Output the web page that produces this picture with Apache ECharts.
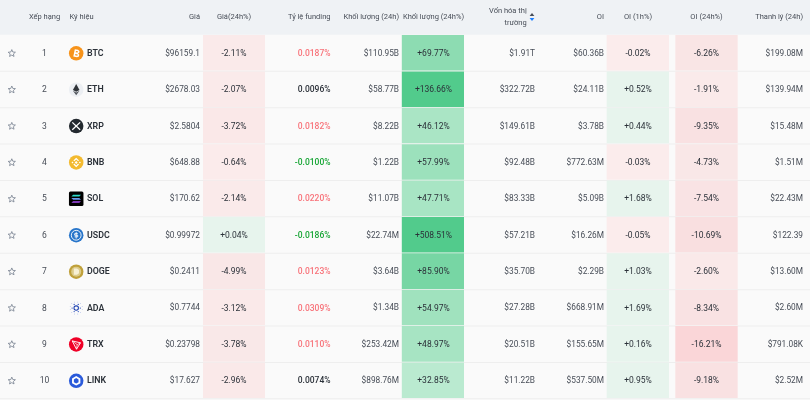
<!DOCTYPE html>
<html>
<head>
<meta charset="utf-8">
<script src="https://cdn.jsdelivr.net/npm/echarts@6/dist/echarts.min.js"></script>
<style>
  html, body { margin: 0; padding: 0; background: #fafafa; }
  /* the reference is a slightly soft screenshot */
  #chart { width: 810px; height: 400px; filter: blur(0.3px); }
</style>
</head>
<body>
<div id="chart"></div>
<script>
// values
const ranks = ['1', '2', '3', '4', '5', '6', '7', '8', '9', '10'];
const symbols = ['BTC', 'ETH', 'XRP', 'BNB', 'SOL', 'USDC', 'DOGE', 'ADA', 'TRX', 'LINK'];
const prices = ['$96159.1', '$2678.03', '$2.5804', '$648.88', '$170.62', '$0.99972', '$0.2411', '$0.7744', '$0.23798', '$17.627'];
const priceChanges = [-2.11, -2.07, -3.72, -0.64, -2.14, 0.04, -4.99, -3.12, -3.78, -2.96];
const fundingRates = [0.0187, 0.0096, 0.0182, -0.0100, 0.0220, -0.0186, 0.0123, 0.0309, 0.0110, 0.0074];
const volumes = ['$110.95B', '$58.77B', '$8.22B', '$1.22B', '$11.07B', '$22.74M', '$3.64B', '$1.34B', '$253.42M', '$898.76M'];
const volumeChanges = [69.77, 136.66, 46.12, 57.99, 47.71, 508.51, 85.90, 54.97, 48.97, 32.85];
const marketCaps = ['$1.91T', '$322.72B', '$149.61B', '$92.48B', '$83.33B', '$57.21B', '$35.70B', '$27.28B', '$20.51B', '$11.22B'];
const openInterest = ['$60.36B', '$24.11B', '$3.78B', '$772.63M', '$5.09B', '$16.26M', '$2.29B', '$668.91M', '$155.65M', '$537.50M'];
const oi1hChanges = [-0.02, 0.52, 0.44, -0.03, 1.68, -0.05, 1.03, 1.69, 0.16, 0.95];
const oi24hChanges = [-6.26, -1.91, -9.35, -4.73, -7.54, -10.69, -2.60, -8.34, -16.21, -9.18];
const liquidations = ['$199.08M', '$139.94M', '$15.48M', '$1.51M', '$22.43M', '$122.39', '$13.60M', '$2.60M', '$791.08K', '$2.52M'];

const FONT = 'Roboto, sans-serif';
const TEXT_GREY = '#474d57';
const TEXT_DARK = '#2b3139';

const signed = v => (v > 0 ? '+' : '') + v.toFixed(2) + '%';
const funding = v => v.toFixed(4) + '%';
const fundingColor = v => (v < 0 ? '#16a534' : v >= 0.01 ? '#f8737a' : TEXT_DARK);

// piecewise colour ramp, stops are [value, colour]
function ramp(stops, v) {
  if (v <= stops[0][0]) return stops[0][1];
  for (let i = 1; i < stops.length; i++) {
    if (v <= stops[i][0]) {
      const t = (v - stops[i - 1][0]) / (stops[i][0] - stops[i - 1][0]);
      return echarts.color.lerp(t, [stops[i - 1][1], stops[i][1]]);
    }
  }
  return stops[stops.length - 1][1];
}
const volumeRamp = [[30, '#bdebd2'], [60, '#9ae0ba'], [90, '#72d4a0'], [137, '#52cb8c']];
const redRamp = [[0, '#fbecec'], [5, '#f9e7e7'], [10, '#f9e0e1'], [16.3, '#fad6d8']];
const changeColor = v => (v >= 0 ? '#e7f4ed' : ramp(redRamp, -v));

const xy = p => ({ points: p });
const poly = (points, fill) => ({ type: 'polygon', shape: xy(points), style: { fill } });
const circle = (r, fill, stroke, lineWidth) => ({ type: 'circle', shape: { cx: 0, cy: 0, r }, style: { fill: fill || 'none', stroke, lineWidth } });
const seg = (x1, y1, x2, y2, stroke, lineWidth) => ({ type: 'line', shape: { x1, y1, x2, y2 }, style: { stroke, lineWidth } });
function ngon(n, r, start) {
  const pts = [];
  for (let i = 0; i < n; i++) {
    const a = start + i * 2 * Math.PI / n;
    pts.push([r * Math.cos(a), r * Math.sin(a)]);
  }
  return pts;
}
function adaDots() {
  const out = [{ type: 'circle', shape: { cx: 0, cy: 0, r: 2.2 }, style: { fill: 'none', stroke: '#1a3fb0', lineWidth: 1.1 } }];
  ngon(6, 4.1, 0).forEach(p => out.push({ type: 'circle', shape: { cx: p[0], cy: p[1], r: 0.65 }, style: { fill: '#2c4fbd' } }));
  ngon(12, 6.2, 0.26).forEach(p => out.push({ type: 'circle', shape: { cx: p[0], cy: p[1], r: 0.4 }, style: { fill: '#7f95dc' } }));
  return out;
}
// tiny coin logos, drawn around (0, 0) in a 14.5px box
const icons = {
  BTC: () => [circle(7.25, '#f7931a'),
    { type: 'group', rotation: -0.2, children: [
      poly([[-2.2, -3.8], [1.2, -3.8], [2.9, -2.7], [2.9, -1.1], [1.9, -0.1], [3.3, 0.9], [3.3, 2.6], [1.6, 3.8], [-2.2, 3.8]], '#fff'),
      { type: 'rect', shape: { x: -0.7, y: -2.3, width: 2, height: 1.3 }, style: { fill: '#f7931a' } },
      { type: 'rect', shape: { x: -0.7, y: 0.8, width: 2.4, height: 1.4 }, style: { fill: '#f7931a' } }
    ] }],
  ETH: () => [circle(7.25, '#eceff3'),
    poly([[0, -5.6], [3.3, 0.2], [0, 2], [-3.3, 0.2]], '#2f3338'),
    poly([[0, 2.9], [3.3, 1], [0, 5.6], [-3.3, 1]], '#54585e')],
  XRP: () => [circle(7.25, '#23292f'),
    seg(-3.9, -3.7, 3.9, 3.7, '#fff', 1.3), seg(3.9, -3.7, -3.9, 3.7, '#fff', 1.3)],
  BNB: () => [circle(7.25, '#f3ba2f'),
    poly(ngon(4, 1.5, 0), '#fff'),
    poly([[0, -4.8], [2.8, -2], [1.9, -1.1], [0, -3], [-1.9, -1.1], [-2.8, -2]], '#fff'),
    poly([[0, 4.8], [2.8, 2], [1.9, 1.1], [0, 3], [-1.9, 1.1], [-2.8, 2]], '#fff'),
    poly(ngon(4, 1, 0).map(p => [p[0] - 3.7, p[1]]), '#fff'),
    poly(ngon(4, 1, 0).map(p => [p[0] + 3.7, p[1]]), '#fff')],
  SOL: () => [{ type: 'rect', shape: { x: -7.25, y: -7.25, width: 14.5, height: 14.5, r: 1.5 }, style: { fill: '#000' } },
    poly([[-3.1, -4], [4.8, -4], [3.1, -2.3], [-4.8, -2.3]], '#2bd9c8'),
    poly([[-4.8, -0.9], [3.1, -0.9], [4.8, 0.8], [-3.1, 0.8]], '#6a9bf0'),
    poly([[-3.1, 2.3], [4.8, 2.3], [3.1, 4], [-4.8, 4]], '#a64bf0')],
  USDC: () => [circle(7.25, '#2775ca'), circle(4.9, null, '#fff', 0.9),
    seg(0, -3.4, 0, 3.4, '#fff', 0.8),
    { type: 'polyline', shape: xy([[1.6, -1.6], [-1.5, -1.6], [-1.5, 0], [1.5, 0], [1.5, 1.6], [-1.6, 1.6]]), style: { fill: 'none', stroke: '#fff', lineWidth: 0.9 } }],
  DOGE: () => [circle(7.25, '#bfa03a'), circle(5, '#dccb8a'),
    poly([[-2.4, -3.2], [0.8, -3.2], [2.8, -1.6], [2.8, 1.6], [0.8, 3.2], [-2.4, 3.2]], '#f7f0d4')],
  ADA: adaDots,
  TRX: () => [circle(7.25, '#ef0027'),
    { type: 'polygon', shape: xy([[-4, -3.5], [4.3, -1.6], [0.3, 4.8]]), style: { fill: 'none', stroke: '#fff', lineWidth: 0.9 } },
    seg(-4, -3.5, 1, 0.2, '#fff', 0.7), seg(1, 0.2, 0.3, 4.8, '#fff', 0.7), seg(1, 0.2, 4.3, -1.6, '#fff', 0.7)],
  LINK: () => [circle(7.25, '#2a5ada'), poly(ngon(6, 4.8, -Math.PI / 2), '#fff'), poly(ngon(6, 2.7, -Math.PI / 2), '#2a5ada')]
};

const starPoints = [];
for (let i = 0; i < 10; i++) {
  const a = -Math.PI / 2 + i * Math.PI / 5;
  const r = i % 2 ? 1.7 : 3.8;
  starPoints.push([r * Math.cos(a), r * Math.sin(a)]);
}

const bandH = api => api.size([0, 1])[1];

// one column of plain text
function textColumn(x, align, texts, style) {
  return {
    type: 'custom',
    silent: true,
    z: 5,
    data: texts.map((t, i) => [x, i]),
    renderItem: (params, api) => {
      const p = api.coord([api.value(0), api.value(1)]);
      const st = typeof style === 'function' ? style(params.dataIndex) : style;
      return {
        type: 'text',
        x: p[0],
        y: p[1] + 0.8,
        style: Object.assign({
          text: texts[params.dataIndex],
          textAlign: align,
          textVerticalAlign: 'middle',
          fontFamily: FONT,
          fontSize: 8.5
        }, st)
      };
    }
  };
}

// coloured cell column
function cellColumn(left, right, colors) {
  return {
    type: 'custom',
    silent: true,
    z: 3,
    data: colors.map((c, i) => [left, i, right]),
    renderItem: (params, api) => {
      const a = api.coord([api.value(0), api.value(1)]);
      const b = api.coord([api.value(2), api.value(1)]);
      const h = bandH(api);
      return {
        type: 'rect',
        shape: { x: a[0], y: a[1] - h / 2 + 0.3, width: b[0] - a[0], height: h - 0.8 },
        style: { fill: colors[params.dataIndex] }
      };
    }
  };
}

const rowSeries = {
  type: 'custom',
  silent: true,
  z: 1,
  data: ranks.map((r, i) => [0, i]),
  renderItem: (params, api) => {
    const p = api.coord([api.value(0), api.value(1)]);
    const h = bandH(api);
    return {
      type: 'rect',
      shape: { x: 0, y: p[1] + h / 2 - 0.3, width: 810, height: 1 },
      style: { fill: '#eeeeee' }
    };
  }
};

const starSeries = {
  type: 'custom',
  silent: true,
  z: 5,
  data: ranks.map((r, i) => [11.8, i]),
  renderItem: (params, api) => {
    const p = api.coord([api.value(0), api.value(1)]);
    return {
      type: 'polygon',
      x: p[0],
      y: p[1] + 0.5,
      shape: { points: starPoints },
      style: { fill: 'none', stroke: '#76808f', lineWidth: 0.8 }
    };
  }
};

const iconSeries = {
  type: 'custom',
  silent: true,
  z: 5,
  data: symbols.map((s, i) => [76.2, i]),
  renderItem: (params, api) => {
    const p = api.coord([api.value(0), api.value(1)]);
    return { type: 'group', x: p[0], y: p[1] + 0.4, children: icons[symbols[params.dataIndex]]() };
  }
};

// header row sits above the grid
const headerLabels = [
  ['Xếp hạng', 44.5, 'center'], ['Ký hiệu', 69.5, 'left'], ['Giá', 200, 'right'],
  ['Giá(24h%)', 234, 'center'], ['Tỷ lệ funding', 330.5, 'right'], ['Khối lượng (24h)', 399, 'right'],
  ['Khối lượng (24h%)', 433.5, 'center'], ['OI', 604, 'right'], ['OI (1h%)', 638, 'center'],
  ['OI (24h%)', 706.5, 'center'], ['Thanh lý (24h)', 803, 'right']
];
const headerText = (text, x, y, align) => ({
  type: 'text',
  x, y,
  silent: true,
  style: { text, textAlign: align, textVerticalAlign: 'middle', fontFamily: FONT, fontSize: 7.5, fill: TEXT_GREY }
});

const chart = echarts.init(document.getElementById('chart'), null, { renderer: 'canvas' });
chart.setOption({
  animation: false,
  backgroundColor: '#fafafa',
  tooltip: { show: false },
  grid: { left: 0, right: 0, top: 34.7, bottom: 1.4 },
  xAxis: { type: 'value', min: 0, max: 810, show: false },
  yAxis: { type: 'category', data: ranks, inverse: true, show: false },
  graphic: [
    { type: 'rect', silent: true, z: -1, shape: { x: 0, y: 0, width: 810, height: 34.7 }, style: { fill: '#eff2f5' } },
    ...headerLabels.map(h => headerText(h[0], h[1], 16.8, h[2])),
    headerText('Vốn hóa thị', 526.7, 11.3, 'right'),
    headerText('trường', 526.7, 22.8, 'right'),
    { type: 'polygon', silent: true, shape: { points: [[529.6, 16], [534.4, 16], [532, 13]] }, style: { fill: '#474d57' } },
    { type: 'polygon', silent: true, shape: { points: [[529.6, 18], [534.4, 18], [532, 21]] }, style: { fill: '#1e80ff' } }
  ],
  series: [
    rowSeries,
    cellColumn(203, 265, priceChanges.map(changeColor)),
    cellColumn(401.8, 464, volumeChanges.map(v => ramp(volumeRamp, v))),
    cellColumn(606.7, 669, oi1hChanges.map(changeColor)),
    cellColumn(675.3, 737.7, oi24hChanges.map(changeColor)),
    starSeries,
    iconSeries,
    textColumn(44.5, 'center', ranks, { fill: TEXT_GREY }),
    textColumn(87, 'left', symbols, { fill: TEXT_DARK, fontWeight: 600, fontSize: 8.8 }),
    textColumn(200, 'right', prices, { fill: TEXT_GREY, fontSize: 8.3 }),
    textColumn(234, 'center', priceChanges.map(signed), { fill: TEXT_DARK }),
    textColumn(330.5, 'right', fundingRates.map(funding), i => ({ fill: fundingColor(fundingRates[i]), fontWeight: 500 })),
    textColumn(399, 'right', volumes, { fill: TEXT_GREY, fontSize: 8.3 }),
    textColumn(433.5, 'center', volumeChanges.map(signed), { fill: TEXT_DARK }),
    textColumn(535, 'right', marketCaps, { fill: TEXT_GREY, fontSize: 8.3 }),
    textColumn(604, 'right', openInterest, { fill: TEXT_GREY, fontSize: 8.3 }),
    textColumn(638, 'center', oi1hChanges.map(signed), { fill: TEXT_DARK }),
    textColumn(706.5, 'center', oi24hChanges.map(signed), { fill: TEXT_DARK }),
    textColumn(803, 'right', liquidations, { fill: TEXT_GREY, fontSize: 8.3 })
  ]
});
</script>
</body>
</html>
